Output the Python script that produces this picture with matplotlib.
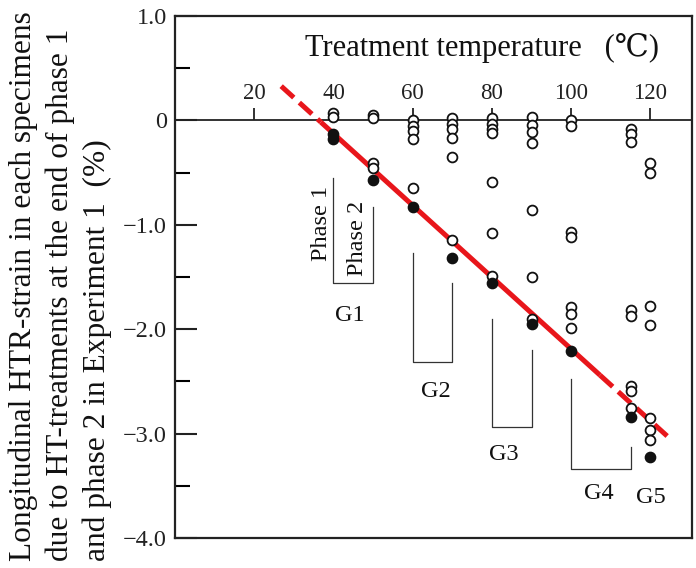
import matplotlib
matplotlib.use("Agg")
import matplotlib.pyplot as plt
import numpy as np

plt.rcParams['font.family'] = ['Liberation Serif', 'DejaVu Serif', 'Noto Sans CJK JP']
plt.rcParams['axes.unicode_minus'] = True

# ---- data ----
open_x = [40, 40,
          50, 50, 50, 50,
          60, 60, 60, 60, 60,
          70, 70, 70, 70, 70, 70,
          80, 80, 80, 80, 80, 80, 80,
          90, 90, 90, 90, 90, 90, 90,
          100, 100, 100, 100, 100, 100, 100,
          115, 115, 115, 115, 115, 115, 115, 115,
          120, 120, 120, 120, 120, 120, 120]
open_y = [0.07, 0.03,
          0.05, 0.02, -0.41, -0.46,
          0.0, -0.05, -0.10, -0.18, -0.65,
          0.02, -0.03, -0.08, -0.17, -0.35, -1.15,
          0.02, -0.03, -0.08, -0.12, -0.59, -1.08, -1.49,
          0.03, -0.04, -0.11, -0.22, -0.86, -1.50, -1.90,
          0.0, -0.05, -1.07, -1.12, -1.79, -1.85, -1.99,
          -0.08, -0.13, -0.21, -1.82, -1.87, -2.54, -2.59, -2.75,
          -0.41, -0.50, -1.78, -1.96, -2.85, -2.97, -3.06]

filled_x = [40, 40, 50, 60, 70, 80, 90, 100, 115, 120]
filled_y = [-0.13, -0.18, -0.57, -0.83, -1.32, -1.56, -1.95, -2.21, -2.84, -3.22]

# regression line y = fit_a + fit_b * x
fit_a = 1.25
fit_b = -0.0344
fit_dash1 = [26.8, 36.8]
fit_solid = [36.8, 107.3]
fit_dash2 = [107.3, 124.7]

x_ticks = [20, 40, 60, 80, 100, 120]
y_ticks = [1.0, 0.0, -1.0, -2.0, -3.0, -4.0]
y_labels = ['1.0', '0', '\u22121.0', '\u22122.0', '\u22123.0', '\u22124.0']

# brackets: (x_left, y_left_top, x_right, y_right_top, y_bottom)
brackets = [
    (40, -0.55, 50, -0.83, -1.56),
    (60, -1.27, 70, -1.56, -2.31),
    (80, -1.90, 90, -2.20, -2.94),
    (100, -2.48, 115, -3.13, -3.34),
]
group_labels = ['G1', 'G2', 'G3', 'G4', 'G5']
group_label_x = [44.2, 65.9, 83.1, 107.0, 120.2]
group_label_y = [-1.87, -2.60, -3.20, -3.57, -3.61]

# ---- figure ----
fig = plt.figure(figsize=(6.96, 5.68), dpi=100)
ax = fig.add_axes([175/696, 1 - 538/568, 517/696, 522/568])
ax.set_xlim(0, 130.5)
ax.set_ylim(-4.0, 1.0)

for s in ax.spines.values():
    s.set_linewidth(1.6)
    s.set_color('#222222')

ax.set_xticks([])
ax.set_yticks(y_ticks)
ax.set_yticklabels(y_labels)
ax.set_yticks(np.arange(-3.5, 1.0, 1.0), minor=True)
ax.tick_params(axis='y', which='major', direction='in', length=15.5, width=1.5,
               labelsize=17.5, pad=6, colors='#222222')
ax.tick_params(axis='y', which='minor', direction='in', length=11, width=1.5)

# zero line as x-axis with ticks above
ax.axhline(0, color='#222222', lw=1.3, zorder=1)
sec = ax.secondary_xaxis(0.8)
sec.spines['top'].set_visible(False)
sec.spines['bottom'].set_visible(False)
sec.set_xticks(x_ticks)
sec.set_xticklabels([str(t) for t in x_ticks])
sec.tick_params(axis='x', direction='out', length=9, width=1.3, labelsize=16.5, pad=3,
                colors='#222222')

ax.text(77.6, 0.69, 'Treatment temperature   (\u2103)', ha='center', va='center',
        fontsize=22, color='#111111')

# regression line
red = '#e8161b'
xs = np.array(fit_solid)
ax.plot(xs, fit_a + fit_b * xs, color=red, lw=3.6, solid_capstyle='butt', zorder=2)
for seg in (fit_dash1, fit_dash2):
    xs = np.array(seg)
    ax.plot(xs, fit_a + fit_b * xs, color=red, lw=3.6, dashes=(3.4, 1.5),
            dash_capstyle='butt', zorder=2)

# points
ax.scatter(open_x, open_y, s=50, facecolors='white', edgecolors='#111111',
           linewidths=1.3, zorder=3)
ax.scatter(filled_x, filled_y, s=55, facecolors='#111111', edgecolors='#111111',
           linewidths=1.0, zorder=4)

# brackets
for (xl, ytl, xr, ytr, yb) in brackets:
    ax.plot([xl, xl, xr, xr], [ytl, yb, yb, ytr], color='#333333', lw=0.9, zorder=1)

for lab, gx, gy in zip(group_labels, group_label_x, group_label_y):
    ax.text(gx, gy, lab, ha='center', va='center', fontsize=17.5, color='#111111')

ax.text(36.9, -0.99, 'Phase 1', rotation=90, ha='center', va='center', fontsize=17.5,
        color='#111111')
ax.text(46.0, -1.13, 'Phase 2', rotation=90, ha='center', va='center', fontsize=17.5,
        color='#111111')

fig.text(60/696, 0.496, 'Longitudinal HTR-strain in each specimens\n'
         'due to HT-treatments at the end of phase 1\n'
         'and phase 2 in Experiment 1  (%)',
         rotation=90, ha='center', va='center', multialignment='left',
         fontsize=22.6, linespacing=1.33, color='#111111')

fig.savefig('out.png', dpi=100)
